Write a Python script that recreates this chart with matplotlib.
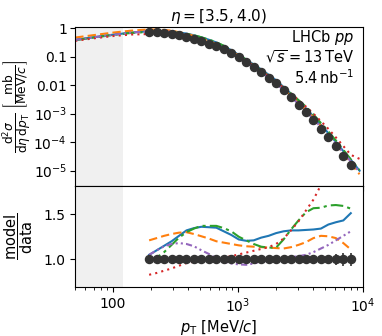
import matplotlib
matplotlib.use("Agg")
import matplotlib.pyplot as plt
import numpy as np

# data points (pT in MeV/c)
pt = [195, 224, 257, 295, 338, 388, 445, 511, 586, 672, 771, 885, 1016, 1166,
      1338, 1535, 1761, 2021, 2319, 2661, 3054, 3504, 4021, 4614, 5295, 6076,
      6972, 8000]
xsec = [0.75, 0.72, 0.69, 0.64, 0.56, 0.49, 0.42, 0.35, 0.29, 0.235, 0.18,
        0.133, 0.095, 0.065, 0.044, 0.029, 0.0185, 0.0115, 0.0066, 0.0038,
        0.0021, 0.00115, 6.0e-4, 3.0e-4, 1.5e-4, 7.2e-5, 3.4e-5, 1.6e-5]
rel_err = [0.05, 0.05, 0.05, 0.05, 0.045, 0.045, 0.045, 0.045, 0.045, 0.045,
           0.045, 0.045, 0.045, 0.045, 0.045, 0.045, 0.045, 0.045, 0.045, 0.045,
           0.045, 0.045, 0.045, 0.05, 0.05, 0.06, 0.07, 0.07]

# model / data ratios at data points
r_blue = [1.05, 1.10, 1.15, 1.20, 1.26, 1.32, 1.345, 1.36, 1.355, 1.35, 1.31,
          1.27, 1.22, 1.205, 1.21, 1.24, 1.26, 1.29, 1.31, 1.32, 1.32, 1.325,
          1.33, 1.34, 1.385, 1.41, 1.43, 1.51]
r_orange = [1.21, 1.235, 1.26, 1.28, 1.295, 1.30, 1.28, 1.255, 1.23, 1.20,
            1.185, 1.17, 1.155, 1.145, 1.14, 1.135, 1.13, 1.125, 1.12, 1.135,
            1.16, 1.19, 1.235, 1.26, 1.255, 1.235, 1.18, 1.11]
r_green = [0.99, 1.02, 1.08, 1.16, 1.24, 1.30, 1.34, 1.37, 1.37, 1.37, 1.345,
           1.31, 1.25, 1.21, 1.17, 1.14, 1.13, 1.13, 1.22, 1.33, 1.43, 1.52,
           1.565, 1.57, 1.595, 1.60, 1.59, 1.56]
r_red = [0.83, 0.85, 0.875, 0.90, 0.93, 0.96, 0.975, 0.985, 0.995, 1.005,
         1.02, 1.035, 1.055, 1.075, 1.095, 1.115, 1.135, 1.17, 1.23, 1.32,
         1.42, 1.54, 1.66, 1.82, 1.95, 2.05, 2.15, 2.25]
r_purple = [1.05, 1.10, 1.145, 1.17, 1.18, 1.17, 1.145, 1.10, 1.06, 1.01,
            0.975, 0.955, 0.945, 0.94, 0.955, 0.97, 0.99, 1.00, 1.015, 1.025,
            1.035, 1.05, 1.08, 1.12, 1.16, 1.21, 1.26, 1.31]

# model predictions outside the data range (top panel)
pt_low = [50, 70, 100, 140]
low_blue = [0.39, 0.48, 0.59, 0.70]
low_orange = [0.47, 0.57, 0.70, 0.82]
low_green = [0.38, 0.47, 0.58, 0.68]
low_red = [0.36, 0.44, 0.53, 0.60]
low_purple = [0.39, 0.48, 0.59, 0.70]
pt_high = [9400]
high_blue = [1.0e-5]
high_orange = [7.5e-6]
high_green = [1.05e-5]
high_red = [2.6e-5]
high_purple = [8.8e-6]

band = (50, 120)

models = [
    (r_blue, low_blue, high_blue, "C0", "-"),
    (r_orange, low_orange, high_orange, "C1", (0, (4, 2))),
    (r_green, low_green, high_green, "C2", (0, (6, 2, 1.5, 2))),
    (r_red, low_red, high_red, "C3", (0, (1, 2))),
    (r_purple, low_purple, high_purple, "C4", (0, (3, 1.5, 1, 1.5, 1, 1.5))),
]

fig = plt.figure(figsize=(3.82, 3.36), dpi=100)
ax1 = fig.add_axes([0.197, 0.4464, 0.753, 0.4732])
ax2 = fig.add_axes([0.197, 0.1458, 0.753, 0.3006], sharex=ax1)

pt_a = np.array(pt)
xs_a = np.array(xsec)
for ax in (ax1, ax2):
    ax.axvspan(*band, color="#f0f0f0", lw=0, zorder=0)

for r, lo, hi, c, ls in models:
    xx = list(pt_low) + list(pt) + list(pt_high)
    yy = list(lo) + list(xs_a * np.array(r)) + list(hi)
    ax1.plot(xx, yy, color=c, ls=ls, lw=1.5, zorder=2)
    ax2.plot(pt, r, color=c, ls=ls, lw=1.5, zorder=2)

ax1.plot(pt, xsec, "o", color="#333333", ms=5.8, zorder=3)
ax2.errorbar(pt, np.ones(len(pt)), yerr=rel_err, fmt="o", color="#333333",
             ms=5.8, elinewidth=1.2, capsize=0, zorder=3)

ax1.set_xscale("log")
ax1.set_yscale("log")
ax1.set_xlim(50, 1e4)
ax1.set_ylim(2.9e-6, 1.1)
ax1.set_yticks([1, 0.1, 0.01, 1e-3, 1e-4, 1e-5])
ax1.set_yticklabels(["1", "0.1", "0.01", r"$10^{-3}$", r"$10^{-4}$", r"$10^{-5}$"])
ax1.yaxis.set_minor_locator(matplotlib.ticker.NullLocator())
ax1.tick_params(labelbottom=False)
ax1.tick_params(axis="y", pad=2.5)
ax1.set_title(r"$\eta = [3.5, 4.0)$", fontsize=11, pad=4)
ax1.text(0.97, 0.995, "LHCb $pp$\n$\\sqrt{s} = 13\\,$TeV\n$5.4\\,$nb$^{-1}$",
         transform=ax1.transAxes, ha="right", va="top", fontsize=10.5,
         linespacing=1.15)
ax1.set_ylabel(r"$\dfrac{\mathrm{d}^2\sigma}{\mathrm{d}\eta\,\mathrm{d}p_\mathrm{T}}\ \left[\dfrac{\mathrm{mb}}{\mathrm{MeV}/c}\right]$",
               fontsize=8.8)

ax2.set_ylim(0.695, 1.81)
ax2.set_yticks([1.0, 1.5])
ax2.set_yticklabels(["1.0", "1.5"])
ax2.set_xticks([100, 1000, 10000])
ax2.set_xticklabels(["100", r"$10^3$", r"$10^4$"])
ax2.set_xlabel(r"$p_\mathrm{T}$ [MeV/$c$]", fontsize=10.5, labelpad=2)
ax2.set_ylabel(r"$\dfrac{\mathrm{model}}{\mathrm{data}}$", fontsize=10.5)

# place the y labels so their left edge sits ~1-2 px from the figure edge
fig.canvas.draw()
renderer = fig.canvas.get_renderer()
for ax, left in ((ax1, 1.0), (ax2, 2.0)):
    ax.yaxis.set_label_coords(-0.15, 0.5)
    fig.canvas.draw()
    bb = ax.yaxis.label.get_window_extent(renderer)
    ax_bb = ax.get_window_extent(renderer)
    shift = (left - bb.x0) / ax_bb.width
    ax.yaxis.set_label_coords(-0.15 + shift, 0.5)

fig.savefig("out.png", dpi=100)
